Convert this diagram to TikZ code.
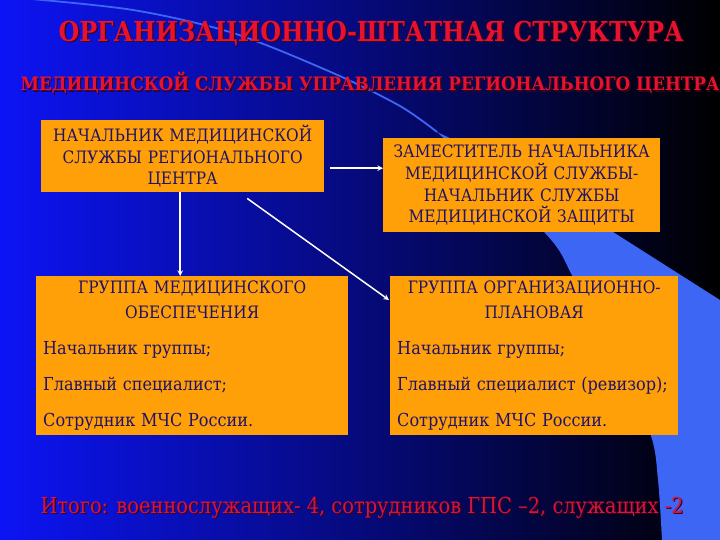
\documentclass[tikz,border=0pt]{standalone}
\usepackage{fontspec}
\setmainfont{DejaVu Serif}[FakeStretch=0.9]
\usetikzlibrary{arrows}

\definecolor{slideblue}{RGB}{12,20,245}
\definecolor{midblue}{RGB}{0,0,185}
\definecolor{bandblue}{RGB}{62,102,245}
\definecolor{boxorange}{RGB}{255,160,8}
\definecolor{inkblue}{RGB}{32,18,104}
\definecolor{titlered}{RGB}{232,18,44}
\definecolor{totalred}{RGB}{215,20,60}
\definecolor{shadowred}{RGB}{60,0,24}

\newcommand{\capsize}{\fontsize{17.1}{21.7}\selectfont}
\newcommand{\itemsize}{\fontsize{17.9}{36}\selectfont}
\newcommand{\embossed}[1]{\makebox[0pt][l]{\hspace{1.3pt}\raisebox{-1.3pt}{\color{shadowred}#1}}#1}

\tikzstyle{unit} = [rectangle, fill=boxorange, text=inkblue, anchor=north west, inner sep=0pt, font=\capsize]
\tikzstyle{group} = [unit, inner xsep=7pt, minimum height=159pt]
\tikzstyle{arrow} = [line width=1.5pt, white, ->, >=stealth]

\begin{document}
\begin{tikzpicture}[x=1pt, y=-1pt]
    \useasboundingbox (0,0) rectangle (720,540);
    % background
    \shade[left color=slideblue, middle color=midblue, right color=black] (0,0) rectangle (720,540);
    \draw[bandblue, line width=1.8pt] plot[smooth] coordinates {(20,-2) (133,10) (233,33) (333,73) (400,106) (437,132)};
    \fill[bandblue] plot[smooth] coordinates {(437,132) (545,233) (573,277) (611,350) (650,433) (658,480) (662,540)}
        -- (720,540) -- (720,300) -- plot[smooth] coordinates {(613,232) (530,178) (437,132)} -- cycle;

    \node (title) [anchor=base west, text=titlered] at (55,41.7)
        {\resizebox{625pt}{\height}{\fontsize{27.5}{30}\selectfont\bfseries\embossed{ОРГАНИЗАЦИОННО-ШТАТНАЯ СТРУКТУРА}}};
    \node (subtitle) [anchor=base west, text=titlered] at (17,91)
        {\resizebox{699pt}{\height}{\fontsize{18.5}{20}\selectfont\bfseries\embossed{МЕДИЦИНСКОЙ СЛУЖБЫ УПРАВЛЕНИЯ РЕГИОНАЛЬНОГО ЦЕНТРА}}};

    \node (chief) [unit, minimum width=283pt, minimum height=72pt, text width=270pt, align=center] at (41,120)
        {НАЧАЛЬНИК МЕДИЦИНСКОЙ\\ СЛУЖБЫ РЕГИОНАЛЬНОГО\\ ЦЕНТРА};
    \node (deputy) [unit, minimum width=277pt, minimum height=94pt, text width=265pt, align=center] at (383,138)
        {ЗАМЕСТИТЕЛЬ НАЧАЛЬНИКА\\ МЕДИЦИНСКОЙ СЛУЖБЫ-\\ НАЧАЛЬНИК СЛУЖБЫ\\ МЕДИЦИНСКОЙ ЗАЩИТЫ};
    \node (medgroup) [group, text width=298pt] at (36,276)
        {{\centering\vspace*{3pt}ГРУППА МЕДИЦИНСКОГО\par ОБЕСПЕЧЕНИЯ\par}
         {\raggedright\itemsize Начальник группы;\par Главный специалист;\par Сотрудник МЧС России.\par}};
    \node (planning) [group, text width=274pt] at (390,276)
        {{\centering\vspace*{3pt}ГРУППА ОРГАНИЗАЦИОННО-\par ПЛАНОВАЯ\par}
         {\raggedright\itemsize Начальник группы;\par \mbox{Главный специалист (ревизор);}\par Сотрудник МЧС России.\par}};

    \node (total) [anchor=base west, text=totalred] at (37,513)
        {\resizebox{643pt}{\height}{\fontsize{22}{24}\selectfont\embossed{Итого: военнослужащих- 4, сотрудников ГПС –2, служащих -2}}};

    \draw [arrow] ([xshift=6pt,yshift=-12pt]chief.east) -- ([yshift=17pt]deputy.west);
    \draw [arrow] ([xshift=-2.5pt]chief.south) -- ([xshift=-2.5pt]chief.south |- medgroup.north);
    \draw [arrow] ([xshift=64.5pt,yshift=-6pt]chief.south) -- ([xshift=-1pt,yshift=-24pt]planning.north west);
\end{tikzpicture}
\end{document}
